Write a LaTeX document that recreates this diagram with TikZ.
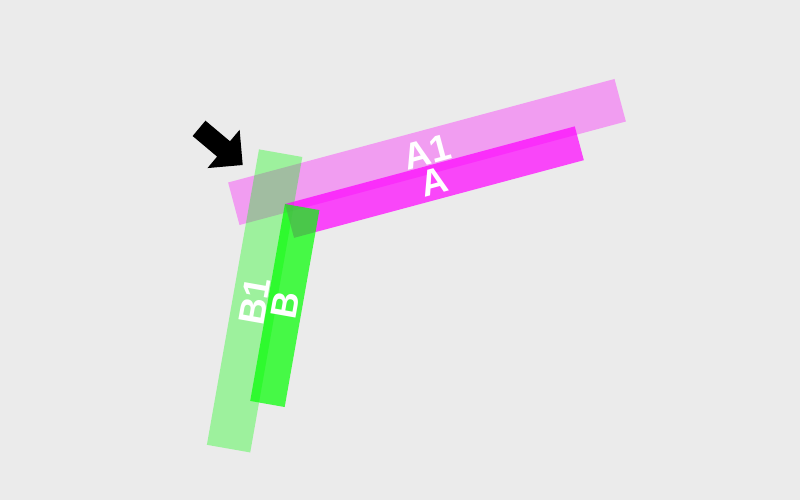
\documentclass[tikz,border=0pt]{standalone}
\usepackage{fontspec}
\setmainfont{Liberation Sans}
\definecolor{bgGray}{RGB}{235,235,235}
\definecolor{barMagenta}{RGB}{255,0,255}
\definecolor{barGreen}{RGB}{0,255,0}
\tikzset{
    bar/.style={inner sep=0pt, text=white, text opacity=1,
        font=\bfseries\fontsize{37}{37}\selectfont}
}
\begin{document}
\begin{tikzpicture}[x=1pt, y=-1pt]
    % Background
    \fill[bgGray] (0,0) rectangle (800,500);
    \useasboundingbox (0,0) rectangle (800,500);

    % Bars: name/x/y/length/width/angle/colour/opacity
    \foreach \nm/\x/\y/\len/\wid/\ang/\col/\op in {A1/427/152/400/44/15/barMagenta/0.33, B1/254.6/300.9/300/44/80/barGreen/0.33, A/434.4/182.1/300/35/15/barMagenta/0.7, B/284.8/305.5/200/35/80/barGreen/0.7} {
        \node[bar, fill=\col, fill opacity=\op, minimum width=\len pt, minimum height=\wid pt, rotate=\ang] (\nm) at (\x,\y) {\nm};
    }

    % Pointer arrow
    \begin{scope}[shift={(242.7,165)}, rotate=-40]
        \fill[black] (0,0) -- (-25,25) -- (-25,10) -- (-57,10) -- (-57,-10) -- (-25,-10) -- (-25,-25) -- cycle;
    \end{scope}

\end{tikzpicture}
\end{document}
